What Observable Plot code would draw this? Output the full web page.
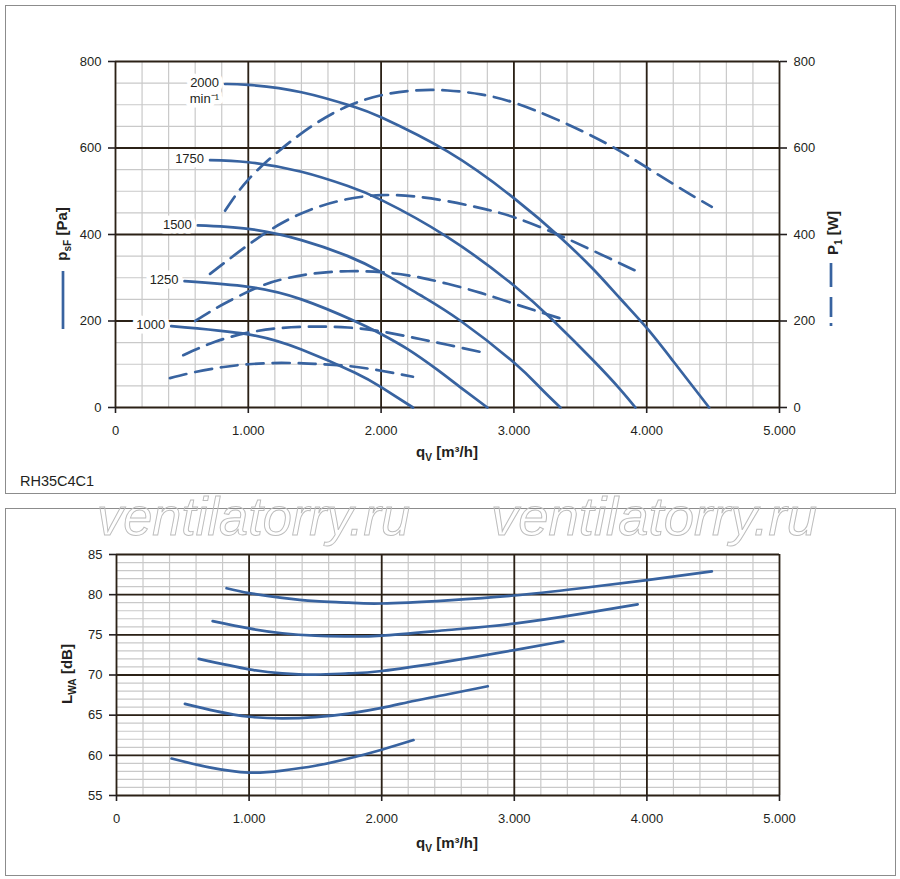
<!DOCTYPE html>
<html><head><meta charset="utf-8">
<script src="https://cdn.jsdelivr.net/npm/d3@7"></script>
<script src="https://cdn.jsdelivr.net/npm/@observablehq/plot@0.6"></script>
<style>
body{margin:0;background:#fff;}
#wrap{position:relative;width:900px;height:879px;font-family:"Liberation Sans",Arial,sans-serif;color:#231f20;}
.frame{position:absolute;border:1px solid #8c8c8c;box-sizing:border-box;}
#top{position:absolute;left:0;top:0;}
#bot{position:absolute;left:0;top:508px;}
#wm{position:absolute;left:0;top:0;pointer-events:none;}
</style></head><body>
<div id="wrap">
 <div class="frame" style="left:5px;top:5px;width:891px;height:489px"></div>
 <div class="frame" style="left:5px;top:508px;width:891px;height:368px"></div>
 <div id="top"></div><div id="bot"></div>
 <svg id="wm" width="900" height="879"></svg>
</div>
<script>
// ---- ticks / labels ----
const qTicks = [0, 1000, 2000, 3000, 4000, 5000];
const qTickLabels = ["0", "1.000", "2.000", "3.000", "4.000", "5.000"];
const pTicks = [0, 200, 400, 600, 800];
const lTicks = [55, 60, 65, 70, 75, 80, 85];
const speeds = ["2000", "1750", "1500", "1250", "1000"];

// ---- static pressure p_sF [Pa] vs q_V [m3/h] ----
const psf2000 = [[825,748],[1000,746],[1400,729],[1800,695],[2000,671],[2500,592],[3000,484],[3350,393],[3600,319],[3800,252],[4000,184],[4200,107],[4470,0]];
const psf1750 = [[712,572],[1000,567],[1400,545],[1750,512],[2000,480],[2500,394],[3000,282],[3300,200],[3600,108],[3800,42],[3915,0]];
const psf1500 = [[620,421],[1000,413],[1400,387],[1750,350],[2000,313],[2300,259],[2600,200],[3000,104],[3200,45],[3350,0]];
const psf1250 = [[520,292],[1000,279],[1400,250],[1800,200],[2000,170],[2200,135],[2420,88],[2600,46],[2800,0]];
const psf1000 = [[420,188],[1000,169],[1400,134],[1800,81],[2000,47],[2240,0]];

// ---- input power P1 [W] ----
const pw2000 = [[825,455],[1000,527],[1250,598],[1500,655],[1750,697],[2000,722],[2250,733],[2500,733],[2750,724],[3000,705],[3330,665],[3700,610],[4000,555],[4300,498],[4490,464]];
const pw1750 = [[712,309],[1000,376],[1250,426],[1500,461],[1750,482],[2000,491],[2250,488],[2500,477],[2750,461],[3000,440],[3300,404],[3600,362],[3925,315]];
const pw1500 = [[600,200],[800,237],[1050,275],[1250,296],[1500,310],[1750,315],[2000,313],[2250,303],[2500,286],[2750,265],[3000,240],[3360,205]];
const pw1250 = [[510,121],[750,152],[1000,173],[1250,184],[1500,187],[1750,185],[2000,176],[2250,161],[2500,145],[2800,125]];
const pw1000 = [[410,68],[600,82],[800,93],[1000,100],[1250,103],[1500,101],[1750,96],[2000,85],[2240,71]];

// ---- sound power L_WA [dB] ----
const lwa2000 = [[830,80.8],[1000,80.2],[1250,79.6],[1500,79.2],[1750,79.0],[2000,78.9],[2500,79.3],[3000,79.9],[3500,80.8],[4000,81.8],[4490,82.9]];
const lwa1750 = [[725,76.7],[1000,75.8],[1250,75.2],[1500,74.9],[1750,74.8],[2000,74.9],[2500,75.6],[3000,76.4],[3500,77.6],[3930,78.8]];
const lwa1500 = [[620,72.0],[1000,70.7],[1250,70.2],[1500,70.05],[1750,70.2],[2000,70.5],[2500,71.7],[3000,73.1],[3370,74.2]];
const lwa1250 = [[516,66.4],[750,65.5],[1000,64.8],[1250,64.6],[1500,64.75],[1750,65.2],[2000,65.9],[2250,66.8],[2500,67.6],[2800,68.6]];
const lwa1000 = [[415,59.6],[700,58.5],[1000,57.85],[1250,58.1],[1500,58.7],[1750,59.6],[2000,60.7],[2240,61.9]];

const BLUE = "#3863a0";
const INK = "#231f20";
const MAJOR = "#2b2116";
const MINOR = "#c9c9c9";
const FONT = "Liberation Sans, Arial, sans-serif";

function rows(series) {
  return series.flatMap((s, i) => s.map(([q, v]) => ({speed: speeds[i], q, v})));
}
const pressureRows = rows([psf2000, psf1750, psf1500, psf1250, psf1000]);
const powerRows = rows([pw2000, pw1750, pw1500, pw1250, pw1000]);
const soundRows = rows([lwa2000, lwa1750, lwa1500, lwa1250, lwa1000]);
const labelRows = [psf2000, psf1750, psf1500, psf1250, psf1000].map((s, i) => ({speed: speeds[i], q: s[0][0], v: s[0][1]}));

const qMinor = d3.range(0, 5001, 200);
const pMinor = d3.range(0, 801, 50);
const lMinor = d3.range(55, 86, 1);
const fmtQ = d => qTickLabels[qTicks.indexOf(d)];

const topPlot = Plot.plot({
  width: 900, height: 493,
  marginLeft: 115, marginRight: 121, marginTop: 61, marginBottom: 86,
  style: {fontFamily: FONT, fontSize: "13px", color: INK, background: "transparent"},
  x: {domain: [0, 5000]},
  y: {domain: [0, 800]},
  marks: [
    Plot.ruleX(qMinor, {stroke: MINOR, strokeWidth: 1.2}),
    Plot.ruleY(pMinor, {stroke: MINOR, strokeWidth: 1.2}),
    Plot.ruleX(qTicks, {stroke: MAJOR, strokeWidth: 1.8}),
    Plot.ruleY(pTicks, {stroke: MAJOR, strokeWidth: 1.8}),
    Plot.line(powerRows, {x: "q", y: "v", z: "speed", stroke: BLUE, strokeWidth: 2.7, strokeDasharray: "17,9", curve: "natural"}),
    Plot.line(pressureRows, {x: "q", y: "v", z: "speed", stroke: BLUE, strokeWidth: 2.7, curve: "natural"}),
    Plot.text(labelRows, {x: "q", y: "v", text: "speed", textAnchor: "end", dx: -6, dy: -1, fill: INK, stroke: "white", strokeWidth: 9, fontSize: 13}),
    Plot.text(labelRows.filter(d => d.speed === "2000"), {x: "q", y: "v", text: () => "min⁻¹", textAnchor: "end", dx: -6, dy: 15, fill: INK, stroke: "white", strokeWidth: 9, fontSize: 13}),
    Plot.axisX({ticks: qTicks, tickFormat: fmtQ, tickSize: 6, tickPadding: 12, label: null, strokeWidth: 1.6}),
    Plot.axisY({ticks: pTicks, anchor: "left", tickSize: 7, tickPadding: 7, label: null, strokeWidth: 1.6}),
    Plot.axisY({ticks: pTicks, anchor: "right", tickSize: 7, tickPadding: 7, label: null, strokeWidth: 1.6})
  ]
});
document.getElementById("top").appendChild(topPlot);

const botPlot = Plot.plot({
  width: 900, height: 367,
  marginLeft: 116, marginRight: 121, marginTop: 46, marginBottom: 80,
  style: {fontFamily: FONT, fontSize: "13px", color: INK, background: "transparent"},
  x: {domain: [0, 5000]},
  y: {domain: [55, 85]},
  marks: [
    Plot.ruleX(qMinor, {stroke: MINOR, strokeWidth: 1.2}),
    Plot.ruleY(lMinor, {stroke: MINOR, strokeWidth: 1.2}),
    Plot.ruleX(qTicks, {stroke: MAJOR, strokeWidth: 1.8}),
    Plot.ruleY(lTicks, {stroke: MAJOR, strokeWidth: 1.8}),
    Plot.line(soundRows, {x: "q", y: "v", z: "speed", stroke: BLUE, strokeWidth: 2.7, curve: "natural"}),
    Plot.axisX({ticks: qTicks, tickFormat: fmtQ, tickSize: 6, tickPadding: 12, label: null, strokeWidth: 1.6}),
    Plot.axisY({ticks: lTicks, anchor: "left", tickSize: 7, tickPadding: 7, label: null, strokeWidth: 1.6})
  ]
});
document.getElementById("bot").appendChild(botPlot);

function axisLabel(svg, x, y, rot, main, sub, rest, size) {
  const t = svg.append("text")
    .attr("transform", `translate(${x},${y}) rotate(${rot})`)
    .attr("text-anchor", "middle").attr("font-weight", "bold")
    .attr("font-size", size).attr("fill", INK).attr("font-family", FONT);
  t.append("tspan").text(main);
  t.append("tspan").attr("font-size", size * 0.68).attr("dy", size * 0.25).text(sub);
  t.append("tspan").attr("dy", -size * 0.25).text(rest);
}
const ts = d3.select(topPlot);
axisLabel(ts, 447, 457, 0, "q", "V", " [m³/h]", 15);
axisLabel(ts, 67, 234, -90, "p", "sF", " [Pa]", 15);
axisLabel(ts, 838, 233, -90, "P", "1", " [W]", 15);
ts.append("line").attr("x1", 63).attr("x2", 63).attr("y1", 271).attr("y2", 329)
  .attr("stroke", BLUE).attr("stroke-width", 2.7);
ts.append("line").attr("x1", 831).attr("x2", 831).attr("y1", 263).attr("y2", 326)
  .attr("stroke", BLUE).attr("stroke-width", 2.7).attr("stroke-dasharray", "24,10,20,6,3,50");

const bs = d3.select(botPlot);
axisLabel(bs, 447, 340, 0, "q", "V", " [m³/h]", 15);
axisLabel(bs, 72, 166, -90, "L", "WA", " [dB]", 15);

const wm = d3.select("#wm");
wm.append("text").attr("x", 20).attr("y", 486).attr("font-family", FONT).attr("font-size", 14.5).attr("fill", INK).text("RH35C4C1");
[[97, 313], [491, 326]].forEach(([x, len]) => {
  wm.append("text").attr("x", x).attr("y", 535).attr("font-family", FONT)
    .attr("font-style", "italic").attr("font-size", 54)
    .attr("textLength", len).attr("lengthAdjust", "spacingAndGlyphs")
    .attr("fill", "none").attr("stroke", "#bdbdbd").attr("stroke-width", 1)
    .text("ventilatorry.ru");
});
</script>
</body></html>
